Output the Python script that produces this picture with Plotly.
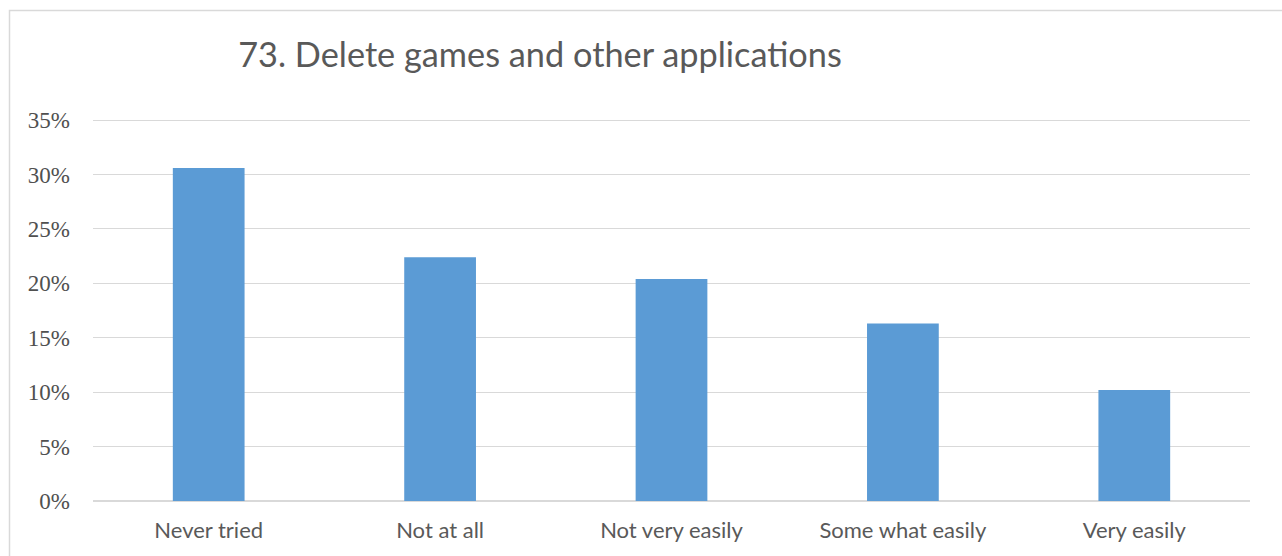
import plotly.graph_objects as go

# Survey responses for question 73
categories = ["Never tried", "Not at all", "Not very easily", "Some what easily", "Very easily"]
shares = [30.6, 22.4, 20.4, 16.3, 10.2]  # percent of respondents
y_ticks = [0, 5, 10, 15, 20, 25, 30, 35]
y_tick_labels = [f"{v}%" for v in y_ticks]
title_text = "73. Delete games and other applications"

W, H = 1282, 556
Y_MAX = 35.1
px_per_unit = (501 - 120) / 35
L, R = 93, 32
B = 55
T = round(H - B - Y_MAX * px_per_unit)
plot_w = W - L - R
plot_h = H - T - B

fig = go.Figure(
    go.Bar(
        x=categories,
        y=shares,
        marker=dict(color="#5B9BD5", line=dict(width=0)),
        width=0.31,
        hoverinfo="x+y",
    )
)

# Outer chart-area frame (extends past the right and bottom edges)
fx0 = (9.5 - L) / plot_w
fy1 = (H - B - 10.5) / plot_h
fig.add_shape(
    type="rect", xref="paper", yref="paper",
    x0=fx0, x1=1.2, y0=-0.5, y1=fy1,
    line=dict(color="#d9d9d9", width=1.5), fillcolor="rgba(0,0,0,0)", layer="below",
)

fig.update_layout(
    width=W, height=H,
    margin=dict(l=L, r=R, t=T, b=B, pad=0),
    paper_bgcolor="white", plot_bgcolor="white",
    showlegend=False,
    title=dict(
        text=title_text,
        x=540 / W, xanchor="center",
        y=1 - 55 / H, yanchor="middle",
        font=dict(family="Lato, 'Open Sans', sans-serif", size=34.3, color="#595959"),
    ),
    xaxis=dict(
        showgrid=False, showline=False, zeroline=False, ticks="",
        ticklabelstandoff=14,
        tickfont=dict(family="Lato, 'Open Sans', sans-serif", size=22, color="#595959"),
    ),
    yaxis=dict(
        range=[0, Y_MAX],
        tickvals=y_ticks, ticktext=y_tick_labels,
        showgrid=True, gridcolor="#d9d9d9", gridwidth=1.3,
        zeroline=True, zerolinecolor="#d9d9d9", zerolinewidth=1.5,
        showline=False, ticks="", ticklabelstandoff=22,
        tickfont=dict(family="'Liberation Serif', 'Times New Roman', serif", size=23, color="#505050"),
    ),
)

fig.write_html("out.html")
